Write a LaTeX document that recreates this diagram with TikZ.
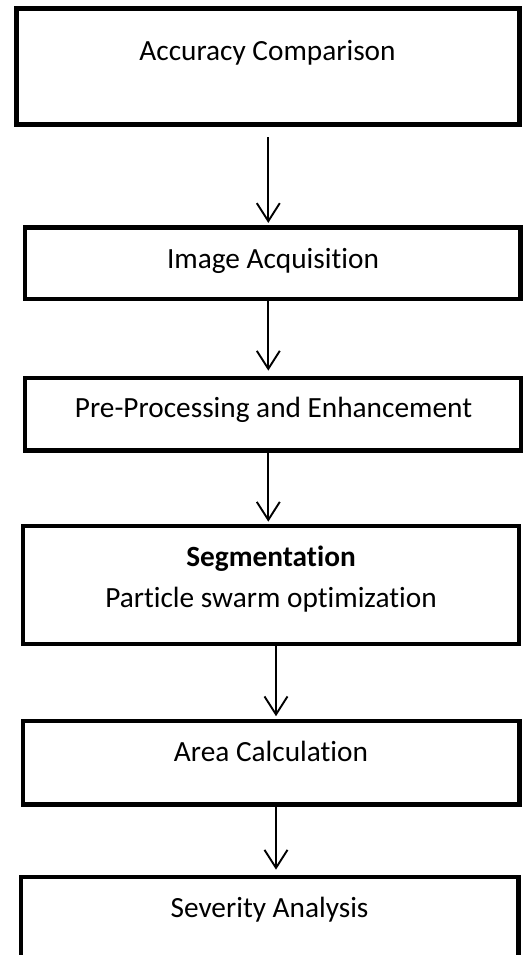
\documentclass[tikz,border=0pt]{standalone}
\usepackage{fontspec}
\setmainfont[Ligatures=NoCommon]{Carlito}
\usetikzlibrary{arrows.meta}
\begin{document}
\begin{tikzpicture}[x=1pt,y=-1pt,
  boxstyle/.style={draw=black, line width=4.7pt, fill=white, inner sep=0pt, rectangle},
  lbl/.style={anchor=base, inner sep=0pt, font=\fontsize{29.3}{34}\selectfont},
  arr/.style={line width=1.9pt, -{Straight Barb[length=18pt,width=23pt,line width=1.9pt]}}]
\clip (0,0) rectangle (523,955);
\fill[white] (0,0) rectangle (523,955);
% boxes
\node[boxstyle, minimum width=503.2pt, minimum height=116pt] (b1) at (267.9,66.3) {};
\node[boxstyle, minimum width=495.7pt, minimum height=71.3pt] (b2) at (272.9,263.4) {};
\node[boxstyle, minimum width=496pt, minimum height=72.7pt] (b3) at (273,414.3) {};
\node[boxstyle, minimum width=496pt, minimum height=118pt] (b4) at (271,585) {};
\node[boxstyle, minimum width=496.7pt, minimum height=83.7pt] (b5) at (271.3,762.9) {};
\node[boxstyle, minimum width=497.7pt, minimum height=160pt] (b6) at (269.8,957) {};
% texts
\node[lbl] (t1) at (267.5,61) {Accuracy Comparison};
\node[lbl] (t2) at (273,268.3) {Image Acquisition};
\node[lbl] (t3) at (273.5,417.7) {Pre-Processing and Enhancement};
\node[lbl, font=\fontsize{29.3}{34}\selectfont\bfseries] (t4a) at (271,566) {Segmentation};
\node[lbl] (t4b) at (271,607.3) {Particle swarm optimization};
\node[lbl] (t5) at (271,761) {Area Calculation};
\node[lbl] (t6) at (269.5,917.5) {Severity Analysis};
% arrow axes
\coordinate (axL) at (268.3,0);
\coordinate (axR) at (276,0);
% arrows
\draw[arr, shorten <=10.5pt, shorten >=2.5pt] (b1.south -| axL) -- (b2.north -| axL);
\draw[arr, shorten >=5pt] (b2.south -| axL) -- (b3.north -| axL);
\draw[arr, shorten >=2pt] (b3.south -| axL) -- (b4.north -| axL);
\draw[arr, shorten >=2.5pt] (b4.south -| axR) -- (b5.north -| axR);
\draw[arr, shorten >=5pt] (b5.south -| axR) -- (b6.north -| axR);
\end{tikzpicture}
\end{document}
